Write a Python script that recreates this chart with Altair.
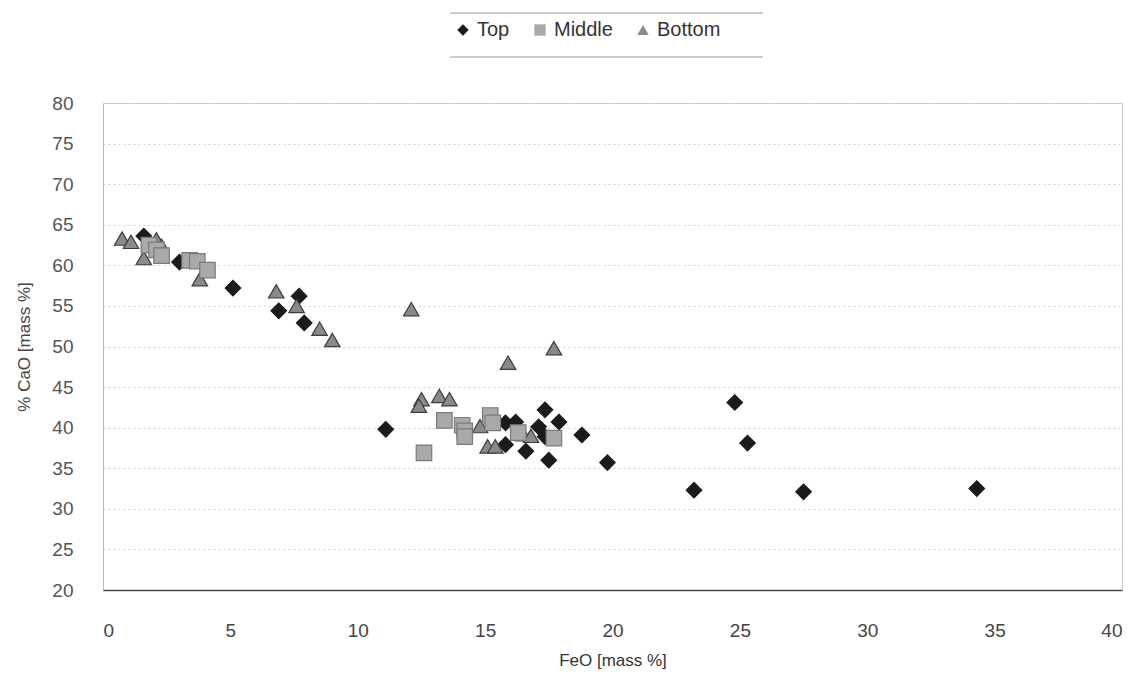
import altair as alt
import pandas as pd

# FeO / CaO composition of samples taken at three heights
top_feo = [1.6, 3.0, 5.1, 6.9, 7.7, 7.9, 11.1, 15.8, 16.2, 15.8, 16.6, 17.1,
           17.35, 17.35, 17.5, 17.9, 18.8, 19.8, 23.2, 24.8, 25.3, 27.5, 34.3]
top_cao = [63.6, 60.4, 57.2, 54.4, 56.2, 52.9, 39.8, 40.6, 40.7, 37.9, 37.1, 40.1,
           42.2, 38.9, 36.0, 40.7, 39.1, 35.7, 32.3, 43.1, 38.1, 32.1, 32.5]

mid_feo = [1.8, 2.1, 2.3, 3.4, 3.7, 4.1, 12.6, 13.4, 14.1, 14.2, 14.2, 15.2,
           15.3, 16.3, 17.7]
mid_cao = [62.5, 61.9, 61.2, 60.6, 60.5, 59.4, 36.9, 40.9, 40.3, 39.6, 38.9, 41.5,
           40.6, 39.4, 38.7]

bot_feo = [0.75, 1.1, 1.6, 2.1, 2.3, 3.8, 6.8, 7.6, 8.5, 9.0, 12.1, 12.5, 12.4,
           13.2, 13.6, 14.8, 15.1, 15.4, 15.9, 16.5, 16.8, 17.7]
bot_cao = [63.3, 62.9, 60.9, 63.2, 62.4, 58.3, 56.8, 55.0, 52.2, 50.8, 54.6, 43.5,
           42.7, 43.9, 43.5, 40.2, 37.7, 37.7, 48.0, 39.2, 39.0, 49.8]

series = ["Top", "Middle", "Bottom"]
shapes = ["diamond", "square", "triangle-up"]
fills = ["#1f1a1a", "#a9a9a9", "#8a8a8a"]
strokes = ["#1f1a1a", "#7a7a7a", "#3c3c3c"]
draw_order = {"Top": 0, "Bottom": 1, "Middle": 2}

rows = []
for name, xs, ys in [("Top", top_feo, top_cao),
                     ("Middle", mid_feo, mid_cao),
                     ("Bottom", bot_feo, bot_cao)]:
    for x, y in zip(xs, ys):
        rows.append({"FeO": x, "CaO": y, "Series": name, "o": draw_order[name]})
df = pd.DataFrame(rows)

FONT = "Liberation Sans"

points = alt.Chart(df).mark_point(filled=True, size=240, opacity=1, strokeWidth=1.2).encode(
    x=alt.X("FeO:Q",
            scale=alt.Scale(domain=[0, 40], nice=False),
            axis=alt.Axis(values=list(range(0, 41, 5)), title="FeO [mass %]",
                          grid=False, ticks=False, labelPadding=31,
                          labelFont=FONT, labelFontSize=19,
                          labelColor="#444", domainColor="#4a4a4a", domainWidth=1.5,
                          titleFont=FONT, titleFontSize=17,
                          titleFontWeight="normal", titleColor="#333",
                          titlePadding=12)),
    y=alt.Y("CaO:Q",
            scale=alt.Scale(domain=[20, 80], nice=False),
            axis=alt.Axis(values=list(range(20, 81, 5)), title="% CaO [mass %]",
                          grid=True, gridColor="#d2d2d2", gridDash=[2, 3],
                          ticks=False, labelPadding=30,
                          labelFont=FONT, labelFontSize=19,
                          labelColor="#555", domainColor="#aaaaaa",
                          domainDash=[2, 2],
                          titleFont=FONT, titleFontSize=17,
                          titleFontWeight="normal", titleColor="#444",
                          titlePadding=18)),
    shape=alt.Shape("Series:N", scale=alt.Scale(domain=series, range=shapes),
                    legend=alt.Legend(title=None, orient="none", direction="horizontal",
                                      legendX=350, legendY=-83,
                                      labelFont=FONT, labelFontSize=20,
                                      labelColor="#333", symbolSize=130,
                                      symbolStrokeWidth=0, columnPadding=20,
                                      labelOffset=4)),
    color=alt.Color("Series:N", scale=alt.Scale(domain=series, range=fills)),
    stroke=alt.Stroke("Series:N", scale=alt.Scale(domain=series, range=strokes),
                      legend=None),
    order=alt.Order("o:Q"),
)

frame = pd.DataFrame({"k": [0]})
legend_top = alt.Chart(frame).mark_rule(color="#9a9a9a", strokeWidth=1).encode(
    x=alt.value(347), x2=alt.value(660), y=alt.value(-90))
legend_bottom = alt.Chart(frame).mark_rule(color="#9a9a9a", strokeWidth=1).encode(
    x=alt.value(347), x2=alt.value(660), y=alt.value(-46))

chart = alt.layer(points, legend_top, legend_bottom).properties(
    width=1019, height=487,
    autosize="none",
    padding={"left": 103, "top": 103, "right": 15, "bottom": 92},
    background="white",
).configure_view(stroke="#c6c6c6", strokeWidth=1)

chart.save("out.html", embed_options={"renderer": "svg", "actions": False})
